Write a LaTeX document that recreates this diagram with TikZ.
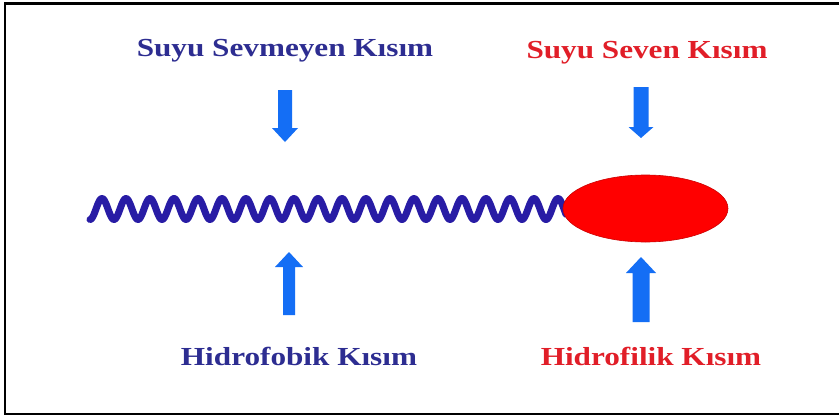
\documentclass[tikz,border=0pt]{standalone}
\usepackage{fontspec}
\newfontfamily\labfont{Liberation Serif}[FakeStretch=1.2]
\usetikzlibrary{shapes.geometric}
\definecolor{txtblue}{RGB}{45,45,145}
\definecolor{txtred}{RGB}{225,30,40}
\definecolor{wavecol}{RGB}{40,28,165}
\definecolor{arrcol}{RGB}{20,110,245}
\definecolor{headred}{RGB}{255,0,0}
\newcommand\myblockarrow[6]{% cx, tail, headbase, tip, shafthalf, headhalf
  \fill[arrcol] (#1-#5,#2) -- (#1+#5,#2) -- (#1+#5,#3) -- (#1+#6,#3) -- (#1,#4)
    -- (#1-#6,#3) -- (#1-#5,#3) -- cycle;}
\tikzset{
  lab/.style={font=\labfont\bfseries\fontsize{26}{30}\selectfont, anchor=base, inner sep=0pt},
  wave/.style={draw=wavecol, line width=7pt, line cap=round, line join=round},
  frameline/.style={draw=black, line width=2.5pt}
}
\begin{document}
\begin{tikzpicture}[x=1pt,y=-1pt]
\useasboundingbox (0,0) rectangle (839,418);
\fill[white] (0,0) rectangle (839,418);
% frame (no right side visible)
\draw[frameline] (845,3.5) -- (5,3.5) -- (5,414) -- (845,414);
% labels
\node[lab, text=txtblue] (lt) at (285,56.5) {Suyu Sevmeyen Kısım};
\node[lab, text=txtred] (rt) at (647,58) {Suyu Seven Kısım};
\node[lab, text=txtblue] (lb) at (299,365) {Hidrofobik Kısım};
\node[lab, text=txtred] (rb) at (651,365) {Hidrofilik Kısım};
% arrows
\myblockarrow{285}{90}{128}{142}{7}{13}
\myblockarrow{641}{87}{127}{138}{7.5}{12.5}
\myblockarrow{289}{315}{267}{252}{6}{14}
\myblockarrow{641}{322}{273}{257}{8.5}{15}
% hydrophobic tail
\draw[wave] plot[domain=90:566, samples=500, smooth] (\x,{209+10.5*cos(15*(\x-90))});
% hydrophilic head
\node[ellipse, fill=headred, draw=red!80!black, line width=0.6pt,
      minimum width=165pt, minimum height=67pt, inner sep=0pt] (head) at (645.5,208.5) {};
\end{tikzpicture}
\end{document}
